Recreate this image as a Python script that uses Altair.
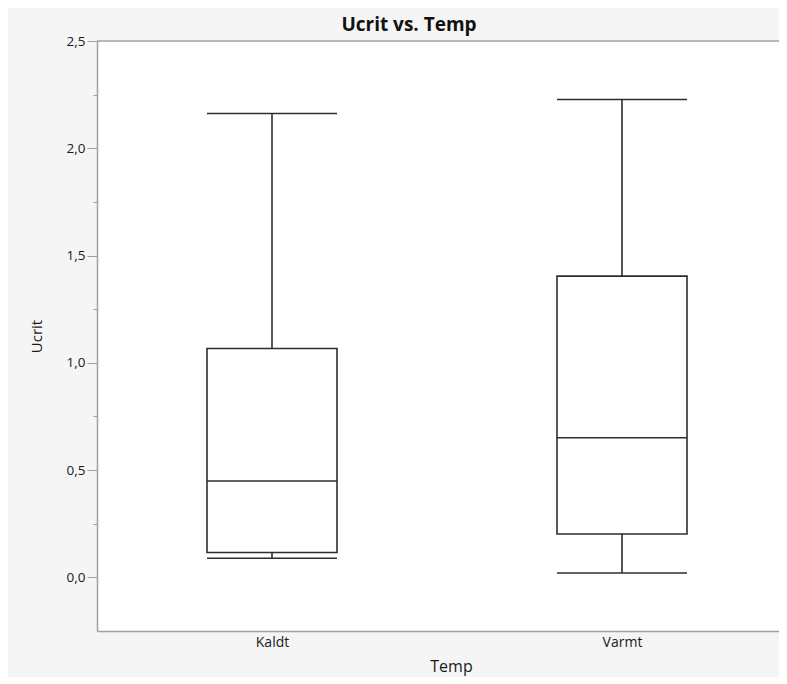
import altair as alt
import pandas as pd

temps = ["Kaldt", "Varmt"]
whisker_low = [0.089, 0.020]
q1 = [0.116, 0.202]
median = [0.449, 0.651]
q3 = [1.067, 1.404]
whisker_high = [2.162, 2.227]

df = pd.DataFrame({
    "Temp": temps,
    "low": whisker_low,
    "q1": q1,
    "median": median,
    "q3": q3,
    "high": whisker_high,
})

W, H = 682, 590
STROKE = "#2e2e2e"
GREY = "#a0a0a0"
FONT = "Open Sans"

xscale = alt.Scale(type="point", padding=0.474286, align=0.52711)
xaxis = alt.Axis(
    title="Temp", labelAngle=0, ticks=False, tickSize=0, labelPadding=4,
    labelFontSize=14, labelColor="#1a1a1a", labelFont=FONT,
    domainColor=GREY, domainWidth=1.5,
    titleFontSize=16, titleFontWeight="normal", titleColor="#1a1a1a", titleFont=FONT,
    titleX=354, titleY=40, titleBaseline="alphabetic", titleAlign="center",
)
yscale = alt.Scale(domain=[-0.25, 2.5], nice=False, zero=False)
yaxis = alt.Axis(
    title="Ucrit",
    values=[0, 0.25, 0.5, 0.75, 1.0, 1.25, 1.5, 1.75, 2.0, 2.25, 2.5],
    labelExpr="datum.value % 0.5 == 0 ? replace(format(datum.value, '.1f'), '.', ',') : ''",
    tickSize={"condition": {"test": "datum.value % 0.5 == 0", "value": 10}, "value": 4},
    labelPadding=2, grid=False,
    labelFontSize=13.5, labelColor="#1a1a1a", labelFont=FONT,
    domainColor=GREY, domainWidth=1.5, tickColor=GREY,
    titleFontSize=15, titleFontWeight="normal", titleColor="#1a1a1a", titleFont=FONT,
    titleX=-61, titleY=H / 2, titleBaseline="middle", titleAlign="center", titleAngle=270,
)

base = alt.Chart(df)

whisker = base.mark_rule(color=STROKE, strokeWidth=1.6).encode(
    x=alt.X("Temp:N", scale=xscale, axis=xaxis, sort=temps),
    y=alt.Y("low:Q", scale=yscale, axis=yaxis),
    y2="high:Q",
)
box = base.mark_bar(size=130, fill="white", stroke=STROKE, strokeWidth=1.6).encode(
    x=alt.X("Temp:N", sort=temps),
    y="q1:Q",
    y2="q3:Q",
)
med = base.mark_tick(size=130, thickness=1.6, color=STROKE, opacity=1).encode(
    x=alt.X("Temp:N", sort=temps), y="median:Q"
)
cap_lo = base.mark_tick(size=130, thickness=1.6, color=STROKE, opacity=1).encode(
    x=alt.X("Temp:N", sort=temps), y="low:Q"
)
cap_hi = base.mark_tick(size=130, thickness=1.6, color=STROKE, opacity=1).encode(
    x=alt.X("Temp:N", sort=temps), y="high:Q"
)
top_line = alt.Chart(pd.DataFrame({"a": [0]})).mark_rule(color=GREY, strokeWidth=1.5).encode(
    x=alt.value(0), x2=alt.value(W), y=alt.value(0)
)

chart = alt.layer(whisker, box, med, cap_lo, cap_hi, top_line).properties(
    width=W, height=H,
    title=alt.TitleParams(
        "Ucrit vs. Temp", fontSize=19, fontWeight="bold", font=FONT, color="#111111",
        anchor="middle", dx=-29, dy=26, offset=10, baseline="alphabetic",
    ),
    autosize=alt.AutoSizeParams(type="none"),
    padding={"left": 89, "top": 33, "right": 0, "bottom": 46},
    background="#f5f5f5",
).configure_view(fill="white", stroke=None)

chart.save("out.html", embed_options={"renderer": "svg", "actions": False})
